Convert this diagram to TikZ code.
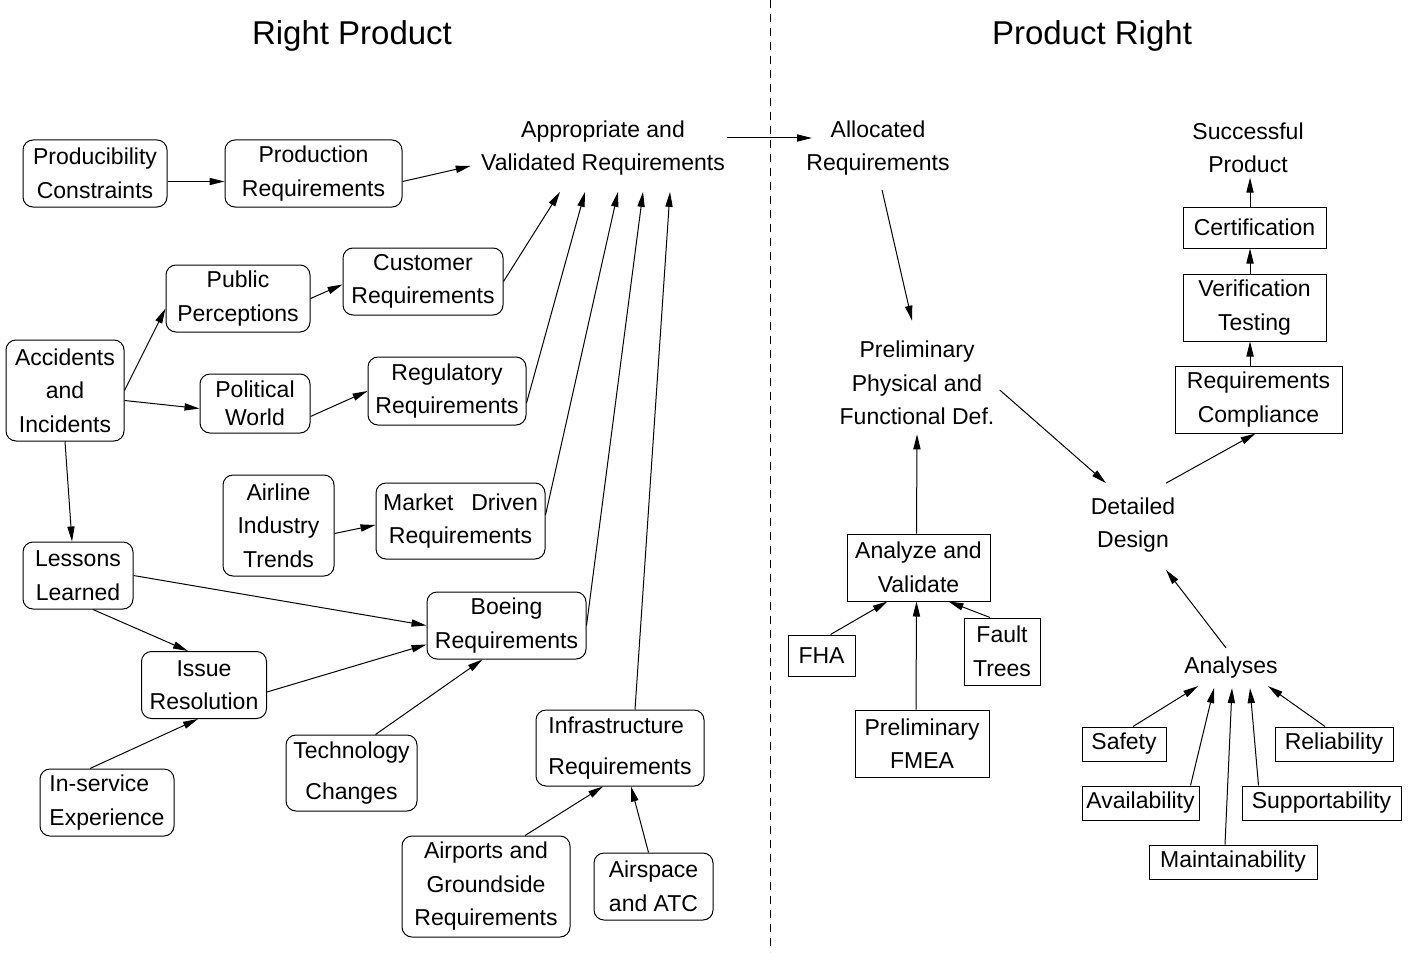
\documentclass[tikz,border=0pt]{standalone}
\usepackage{fontspec}
\setmainfont{Liberation Sans}
\usepackage{tikz}
\usetikzlibrary{arrows.meta,positioning,calc}
\tikzset{
  rbox/.style={draw,line width=0.5pt,rounded corners=5pt,align=center,inner sep=0pt},
  sbox/.style={draw,line width=0.5pt,align=center,inner sep=0pt},
  plain/.style={align=center,inner sep=0pt},
  heading/.style={inner sep=0pt,font=\fontsize{16.5}{20}\selectfont},
  arrow/.style={-{Triangle[length=7.5pt,width=3.6pt]},line width=0.5pt},
  divider/.style={line width=0.5pt,dash pattern=on 4pt off 3pt}
}

\begin{document}
\begin{tikzpicture}[x=0.5pt,y=-0.5pt,font=\fontsize{11.5}{16.75}\selectfont]
\useasboundingbox (0,0) rectangle (1416,952);
\draw[divider] (770,0) -- (770,952);
\node[heading] (rp) at (352,36) {Right Product};
\node[heading] (pr) at (1092,36) {Product Right};

\node[rbox,minimum width=72pt,minimum height=33.5pt] (prodc) at (95,173.5) {Producibility\\Constraints};
\node[rbox,minimum width=88.5pt,minimum height=33.5pt] (prodr) at (313.5,173.5) {Production\\Requirements};
\node[plain] (appr) at (603,148) {Appropriate and\\Validated Requirements};
\node[rbox,minimum width=72pt,minimum height=33.5pt] (public) at (238,298.5) {Public\\Perceptions};
\node[rbox,minimum width=80pt,minimum height=33.5pt] (custr) at (423,281.5) {Customer\\Requirements};
\node[rbox,minimum width=59pt,minimum height=50.5pt] (acc) at (65,390.5) {Accidents\\and\\Incidents};
\node[rbox,minimum width=55pt,minimum height=29.5pt] (polit) at (255,403.5) {Political\\[-3pt]World};
\node[rbox,minimum width=79pt,minimum height=34pt] (regr) at (447,391) {Regulatory\\Requirements};
\node[rbox,minimum width=55.5pt,minimum height=50.5pt] (airline) at (278.5,525.5) {Airline\\Industry\\Trends};
\node[rbox,minimum width=84.5pt,minimum height=38pt] (market) at (460.5,521) {Market\hspace{0.5em} Driven\\Requirements};
\node[rbox,minimum width=55pt,minimum height=33.5pt] (lessons) at (78,575.5) {Lessons\\Learned};
\node[rbox,minimum width=79.5pt,minimum height=33.5pt] (boeing) at (506.5,625.5) {Boeing\\Requirements};
\node[rbox,minimum width=62.5pt,minimum height=33.5pt] (issue) at (204,685) {Issue\\Resolution};
\node[rbox,minimum width=65.5pt,minimum height=38pt] (tech) at (351.5,773) {Technology\\[4pt]Changes};
\node[rbox,minimum width=67pt,minimum height=33.5pt,align=left] (inserv) at (107,802.5) {In-service\\Experience};
\node[rbox,minimum width=84pt,minimum height=38pt,align=left] (infra) at (620,748) {Infrastructure\\[4pt]Requirements};
\node[rbox,minimum width=84pt,minimum height=50.5pt] (airports) at (486,886.5) {Airports and\\Groundside\\Requirements};
\node[rbox,minimum width=59.5pt,minimum height=33.5pt] (airspace) at (653.5,886.5) {Airspace\\and ATC};

\node[plain] (alloc) at (878,148) {Allocated\\Requirements};
\node[plain] (prelim) at (917,383) {Preliminary\\Physical and\\Functional Def.};
\node[sbox,minimum width=71.5pt,minimum height=33.5pt] (analyze) at (918.5,567.5) {Analyze and\\Validate};
\node[sbox,minimum width=33.5pt,minimum height=20.5pt] (fha) at (821.5,655.5) {FHA};
\node[sbox,minimum width=38pt,minimum height=33.5pt] (fault) at (1002,651.5) {Fault\\Trees};
\node[sbox,minimum width=67pt,minimum height=33.5pt] (fmea) at (922,743.5) {Preliminary\\FMEA};
\node[plain] (detail) at (1133,525) {Detailed\\Design};
\node[plain] (success) at (1248,148) {Successful\\Product};
\node[sbox,minimum width=71.5pt,minimum height=20.5pt] (cert) at (1254.5,227.5) {Certification};
\node[sbox,minimum width=71.5pt,minimum height=33.5pt] (verif) at (1254.5,307.5) {Verification\\Testing};
\node[sbox,minimum width=83.5pt,minimum height=33.5pt] (reqcomp) at (1258.5,399.5) {Requirements\\Compliance};
\node[plain] (analyses) at (1231,668) {Analyses};
\node[sbox,minimum width=42pt,minimum height=17pt] (safety) at (1124,744) {Safety};
\node[sbox,minimum width=59pt,minimum height=17pt] (reliab) at (1334,744) {Reliability};
\node[sbox,minimum width=58.5pt,minimum height=17pt] (avail) at (1140.5,803) {Availability};
\node[sbox,minimum width=79.5pt,minimum height=17pt] (support) at (1321.5,803) {Supportability};
\node[sbox,minimum width=84pt,minimum height=17pt] (maint) at (1233,862) {Maintainability};

\draw[arrow] ($(prodc.east)+(0,8)$) -- ($(prodr.west)+(0,8)$);
\draw[arrow] ($(prodr.east)+(0,8)$) -- ($(appr.west)+(-10,18)$);
\draw[arrow] (custr.east) -- ($(appr.south)+(-43,16)$);
\draw[arrow] ($(regr.east)+(0,12)$) -- ($(appr.south)+(-18,16)$);
\draw[arrow] ($(market.east)+(0,-6)$) -- ($(appr.south)+(15,16)$);
\draw[arrow] (boeing.east) -- ($(appr.south)+(40,16)$);
\draw[arrow] ($(infra.north)+(15,0)$) -- ($(appr.south)+(67,16)$);
\draw[arrow] ($(appr.east)+(2,-10)$) -- ($(alloc.west)+(6,-10)$);
\draw[arrow] (acc.east) -- ($(public.west)+(0,10)$);
\draw[arrow] ($(acc.east)+(0,10)$) -- ($(polit.west)+(0,5)$);
\draw[arrow] (public.east) -- ($(custr.west)+(0,3)$);
\draw[arrow] ($(polit.east)+(0,13)$) -- (regr.west);
\draw[arrow] ($(airline.east)+(0,8)$) -- ($(market.west)+(0,4)$);
\draw[arrow] (acc.south) -- ($(lessons.north)+(-6,0)$);
\draw[arrow] (lessons.east) -- (boeing.west);
\draw[arrow] ($(lessons.south)+(15,0)$) -- ($(issue.north)+(-16,0)$);
\draw[arrow] ($(issue.east)+(0,7)$) -- ($(boeing.west)+(0,19)$);
\draw[arrow] ($(inserv.north)+(-17,0)$) -- ($(issue.south)+(-6,0)$);
\draw[arrow] ($(tech.north)+(24,0)$) -- ($(boeing.south)+(-24,0)$);
\draw[arrow] ($(airports.north)+(39,0)$) -- ($(infra.south)+(-17,0)$);
\draw[arrow] ($(airspace.north)+(-5,0)$) -- ($(infra.south)+(11,0)$);

\draw[arrow] ($(alloc.south)+(4,14)$) -- ($(prelim.north)+(-5,-20)$);
\draw[arrow] ($(analyze.north)+(-2,0)$) -- ($(prelim.south)+(0,9)$);
\draw[arrow] ($(fha.north)+(9,0)$) -- ($(analyze.south)+(-31,0)$);
\draw[arrow] ($(fmea.north)+(-6,0)$) -- ($(analyze.south)+(-2,0)$);
\draw[arrow] ($(fault.north)+(-12,0)$) -- ($(analyze.south)+(30,0)$);
\draw[arrow] ($(prelim.east)+(5,7)$) -- ($(detail.north)+(-27,-14)$);
\draw[arrow] ($(detail.north)+(33,-14)$) -- ($(reqcomp.south)+(-3,0)$);
\draw[arrow] ($(reqcomp.north)+(-8.5,0)$) -- ($(verif.south)+(-4.5,0)$);
\draw[arrow] ($(verif.north)+(-4.5,0)$) -- ($(cert.south)+(-4.5,0)$);
\draw[arrow] ($(cert.north)+(-4.5,0)$) -- ($(success.south)+(2,4)$);
\draw[arrow] ($(analyses.north)+(-5,-9)$) -- ($(detail.south)+(33,17)$);
\draw[arrow] ($(safety.north)+(9,0)$) -- ($(analyses.south)+(-33,7)$);
\draw[arrow] ($(avail.north)+(50,0)$) -- ($(analyses.south)+(-17,9)$);
\draw[arrow] ($(maint.north)+(-8,0)$) -- ($(analyses.south)+(1,9)$);
\draw[arrow] ($(support.north)+(-63,0)$) -- ($(analyses.south)+(19,9)$);
\draw[arrow] ($(reliab.north)+(-9,0)$) -- ($(analyses.south)+(37,7)$);
\end{tikzpicture}
\end{document}
